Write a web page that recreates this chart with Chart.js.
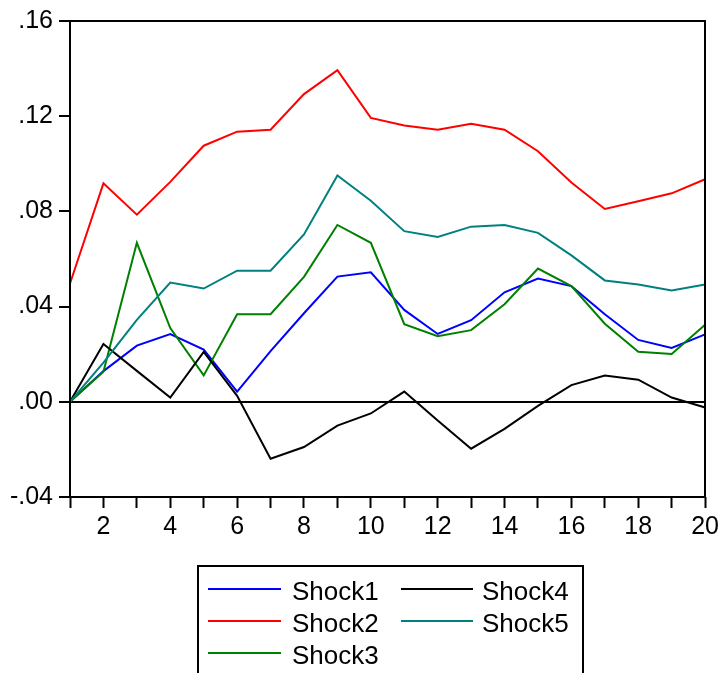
<!DOCTYPE html>
<html><head><meta charset="utf-8">
<script src="https://cdn.jsdelivr.net/npm/chart.js@4"></script>
<style>html,body{margin:0;padding:0;background:#fff}#wrap{width:723px;height:673px;overflow:hidden}</style>
</head><body><div id="wrap"><canvas id="c" width="723" height="673"></canvas></div>
<script>
const periods = [1,2,3,4,5,6,7,8,9,10,11,12,13,14,15,16,17,18,19,20];
const xTickLabels = ['', '2', '', '4', '', '6', '', '8', '', '10', '', '12', '', '14', '', '16', '', '18', '', '20'];
const yTicks = [-0.04, 0, 0.04, 0.08, 0.12, 0.16];
const yTickLabels = ['-.04', '.00', '.04', '.08', '.12', '.16'];
const seriesNames = ['Shock1', 'Shock2', 'Shock3', 'Shock4', 'Shock5'];

const shock1 = [0, 0.0129, 0.0236, 0.0285, 0.0219, 0.0043, 0.0213, 0.0372, 0.0526, 0.0544, 0.0386, 0.0285, 0.0343, 0.0460, 0.0518, 0.0486, 0.0368, 0.0260, 0.0226, 0.0283];
const shock2 = [0.0497, 0.0918, 0.0786, 0.0924, 0.1076, 0.1135, 0.1143, 0.1293, 0.1393, 0.1193, 0.1161, 0.1143, 0.1168, 0.1143, 0.1053, 0.0921, 0.0810, 0.0843, 0.0876, 0.0935];
const shock3 = [0, 0.0126, 0.0668, 0.0310, 0.0111, 0.0368, 0.0368, 0.0525, 0.0743, 0.0668, 0.0326, 0.0276, 0.0301, 0.0410, 0.0560, 0.0486, 0.0328, 0.0210, 0.0201, 0.0324];
const shock4 = [0, 0.0243, 0.0130, 0.0018, 0.0210, 0.0025, -0.0239, -0.0190, -0.0100, -0.0049, 0.0043, -0.0079, -0.0197, -0.0114, -0.0017, 0.0070, 0.0110, 0.0093, 0.0018, -0.0024];
const shock5 = [0, 0.0165, 0.0344, 0.0501, 0.0476, 0.0551, 0.0551, 0.0703, 0.0951, 0.0845, 0.0717, 0.0693, 0.0736, 0.0743, 0.0710, 0.0615, 0.0510, 0.0493, 0.0468, 0.0493];

const seriesValues = [shock1, shock2, shock3, shock4, shock5];
const seriesColors = ['#0000FF', '#FF0000', '#008000', '#000000', '#008080'];
const FONT = 'Liberation Sans, Arial, sans-serif';

const datasets = seriesNames.map((name, i) => ({
  label: name,
  data: seriesValues[i],
  borderColor: seriesColors[i],
  backgroundColor: seriesColors[i],
  borderWidth: 2,
  pointRadius: 0,
  tension: 0,
  fill: false,
  order: seriesNames.length - i
}));

const framePlugin = {
  id: 'frameAndLegend',
  afterDraw(chart) {
    const ctx = chart.ctx;
    const a = chart.chartArea;
    ctx.save();
    ctx.strokeStyle = '#000';
    ctx.lineWidth = 2;
    ctx.strokeRect(Math.round(a.left), Math.round(a.top), Math.round(a.right - a.left), Math.round(a.bottom - a.top));
    // legend box
    const bx = 198, by = 566, bw = 385, bh = 130;
    ctx.lineWidth = 2;
    ctx.strokeRect(bx, by, bw, bh);
    ctx.font = '26px ' + FONT;
    ctx.fillStyle = '#000';
    ctx.textBaseline = 'alphabetic';
    const cols = [{lx: 208, lw: 73, tx: 292}, {lx: 401, lw: 72, tx: 482}];
    const rows = [589, 621, 653];
    chart.data.datasets.forEach((ds, i) => {
      const c = cols[i < 3 ? 0 : 1];
      const y = rows[i < 3 ? i : i - 3];
      ctx.strokeStyle = ds.borderColor;
      ctx.lineWidth = 2;
      ctx.beginPath();
      ctx.moveTo(c.lx, y);
      ctx.lineTo(c.lx + c.lw, y);
      ctx.stroke();
      ctx.fillText(ds.label, c.tx, y + 10.5);
    });
    ctx.restore();
  }
};

new Chart(document.getElementById('c'), {
  type: 'line',
  data: { labels: periods, datasets },
  options: {
    responsive: false,
    animation: false,
    devicePixelRatio: 1,
    layout: { padding: { top: 16, right: 14, left: 0, bottom: 0 } },
    plugins: { legend: { display: false }, tooltip: { enabled: false } },
    scales: {
      x: {
        type: 'category',
        offset: false,
        afterFit(s) { s.height = 176; },
        border: { display: false },
        grid: { display: true, drawOnChartArea: false, drawTicks: true, tickLength: 11, tickColor: '#000', tickWidth: 2, offset: false },
        ticks: {
          autoSkip: false, maxRotation: 0, minRotation: 0, padding: 4,
          color: '#000', font: { family: FONT, size: 25 },
          callback: (v, i) => xTickLabels[i]
        }
      },
      y: {
        min: -0.04, max: 0.16,
        afterFit(s) { s.width = 70; },
        afterBuildTicks(s) { s.ticks = yTicks.map(v => ({ value: v })); },
        border: { display: false },
        grid: {
          drawOnChartArea: true, drawTicks: true, tickLength: 11, tickWidth: 2, tickColor: '#000', lineWidth: 2,
          color: (c) => (c.tick && c.tick.value === 0) ? '#000' : 'rgba(0,0,0,0)'
        },
        ticks: {
          padding: 6, color: '#000', font: { family: FONT, size: 25 },
          callback: (v, i) => yTickLabels[i]
        }
      }
    }
  },
  plugins: [framePlugin]
});
</script>
</body></html>
